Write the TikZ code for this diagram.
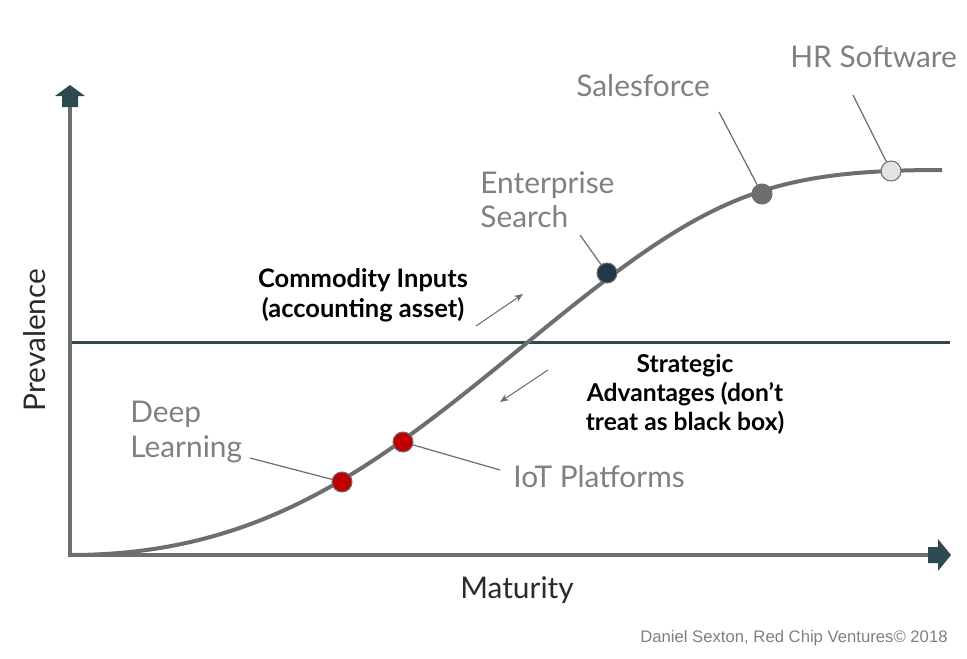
\documentclass[tikz,border=0pt]{standalone}
\usepackage{fontspec}
\setmainfont{Lato}
\newfontfamily\creditfont{Liberation Sans}
\usetikzlibrary{arrows.meta}
\definecolor{axisgray}{HTML}{6E6E6E}
\definecolor{darkteal}{HTML}{2D4A50}
\definecolor{labelgray}{HTML}{808080}
\definecolor{axistext}{HTML}{2A2A2A}
\definecolor{dotred}{HTML}{C00000}
\definecolor{dotnavy}{HTML}{1F3A46}
\definecolor{dotlight}{HTML}{E2E4E4}

\begin{document}
\begin{tikzpicture}[x = 0.02cm, y = -0.02cm,
    dot/.style = {shape = circle, draw = axisgray, line width = 0.6pt, minimum size = 0.4cm, inner sep = 0pt},
    lbl/.style = {text = labelgray, font = \fontsize{17}{19.5}\selectfont, inner sep = 0pt, align = left},
    boldlbl/.style = {font = \fontsize{14.5}{17}\selectfont\bfseries, inner sep = 0pt, align = center},
    leader/.style = {draw = axisgray, line width = 0.7pt},
    hint/.style = {draw = axisgray, line width = 0.6pt, -{Stealth[length = 5pt, width = 4pt]}}]
    \useasboundingbox (0,0) rectangle (967,659);

    % axes
    \coordinate (O) at (70,555);
    \coordinate (Ytop) at (70,107);
    \coordinate (Xend) at (928,555);
    \draw[axisgray, line width = 0.08cm, line cap = rect] (Ytop) -- (O) -- (Xend);
    \fill[darkteal, shift = {(Ytop)}] (-8,0) -- (-8,-11) -- (-15,-11) -- (0,-22) -- (15,-11) -- (8,-11) -- (8,0) -- cycle;
    \fill[darkteal, shift = {(Xend)}] (0,-8) -- (10,-8) -- (10,-16) -- (23,0) -- (10,16) -- (10,8) -- (0,8) -- cycle;

    % threshold line
    \coordinate (Hl) at (72,342);
    \coordinate (Hr) at (950,342);
    \draw[darkteal, line width = 0.06cm] (Hl) -- (Hr);

    % s-curve
    \coordinate (mid) at (528,342);
    \coordinate (cend) at (942,170);
    \draw[axisgray, line width = 0.08cm] (O) .. controls (265,555) and (378,465) .. (mid)
        .. controls (703,198) and (760,170) .. (cend);

    % points on the curve
    \node[dot, fill = dotred] (deep) at (342,482) {};
    \node[dot, fill = dotred] (iot) at (403,442) {};
    \node[dot, fill = dotnavy] (search) at (607,273) {};
    \node[dot, fill = axisgray] (sales) at (762,194) {};
    \node[dot, fill = dotlight] (hr) at (891,171) {};

    % labels
    \node[lbl, anchor = west] (deepl) at (130,432) {Deep\\Learning};
    \node[lbl, anchor = west] (iotl) at (513,477) {IoT Platforms};
    \node[lbl, anchor = west] (searchl) at (480,200) {Enterprise\\Search};
    \node[lbl, anchor = west] (salesl) at (576,86) {Salesforce};
    \node[lbl, anchor = west] (hrl) at (790,57) {HR Software};

    \coordinate (deepc) at (250,458);
    \coordinate (iotc) at (500,470);
    \coordinate (searchc) at (580,235);
    \coordinate (salesc) at (719,112);
    \coordinate (hrc) at (853,95);
    \draw[leader] (deepc) -- (deep);
    \draw[leader] (iotc) -- (iot);
    \draw[leader] (searchc) -- (search);
    \draw[leader] (salesc) -- (sales);
    \draw[leader] (hrc) -- (hr);

    % the two zones
    \node[boldlbl] (commodity) at (363,295) {Commodity Inputs\\(accounting asset)};
    \node[boldlbl, font = \fontsize{14}{16.5}\selectfont\bfseries] (strategic) at (685,394) {Strategic\\Advantages (don't\\treat as black box)};
    \coordinate (upa) at (476,326);
    \coordinate (upb) at (523,294);
    \coordinate (downa) at (548,370);
    \coordinate (downb) at (500,402);
    \draw[hint] (upa) -- (upb);
    \draw[hint] (downa) -- (downb);

    % axis titles
    \node[lbl, text = axistext, rotate = 90] (prev) at (35,340) {Prevalence};
    \node[lbl, text = axistext] (mat) at (517,590) {Maturity};
    \node[text = labelgray, font = \creditfont\fontsize{9.5}{11}\selectfont, inner sep = 0pt, anchor = east] (credit) at (948,638) {Daniel Sexton, Red Chip Ventures\textcopyright{} 2018};
\end{tikzpicture}
\end{document}
